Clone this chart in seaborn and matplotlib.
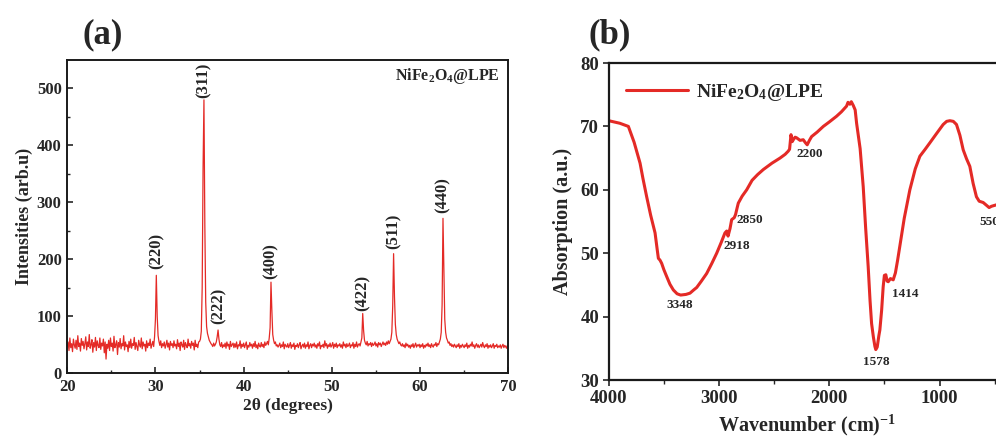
"""XRD pattern (a) and FTIR spectrum (b) of NiFe2O4@LPE."""

import matplotlib

matplotlib.use("Agg")
import matplotlib.pyplot as plt
import numpy as np
import pandas as pd
import seaborn as sns

# --- (a) XRD: intensity read at 0.1 degree steps, one row per degree ---
TWO_THETA_START = 20.0
TWO_THETA_STEP = 0.1
xrd_rows = [
    [48, 55, 40, 62, 45, 52, 38, 60, 50, 44],  # 20
    [58, 42, 66, 47, 53, 39, 61, 49, 56, 43],
    [52, 64, 41, 55, 47, 68, 44, 50, 59, 37],
    [54, 46, 63, 40, 57, 49, 45, 62, 42, 53],
    [48, 60, 36, 55, 25, 51, 44, 58, 40, 62],
    [47, 53, 39, 65, 45, 50, 57, 33, 54, 46],  # 25
    [61, 43, 52, 48, 66, 41, 55, 47, 50, 38],
    [56, 45, 60, 44, 52, 49, 63, 42, 54, 47],
    [40, 58, 50, 46, 62, 43, 55, 48, 51, 39],
    [57, 45, 53, 49, 60, 44, 50, 56, 47, 64],
    [95, 172, 100, 66, 56, 49, 57, 45, 52, 48],  # 30
    [55, 44, 50, 58, 46, 53, 41, 56, 49, 52],
    [45, 57, 48, 51, 43, 59, 47, 53, 40, 55],
    [50, 46, 58, 42, 54, 49, 45, 60, 48, 52],
    [44, 56, 49, 53, 41, 58, 47, 51, 45, 55],
    [56, 60, 74, 150, 360, 480, 260, 125, 82, 70],  # 35
    [64, 58, 55, 52, 50, 47, 53, 48, 51, 55],
    [64, 76, 60, 50, 47, 54, 45, 50, 47, 53],
    [44, 55, 48, 51, 42, 56, 47, 50, 53, 45],
    [52, 46, 55, 43, 50, 48, 57, 44, 51, 47],
    [53, 45, 50, 55, 42, 49, 46, 54, 48, 51],  # 40
    [44, 52, 47, 56, 45, 50, 43, 53, 48, 46],
    [54, 47, 51, 45, 55, 49, 52, 56, 50, 62],
    [80, 160, 110, 68, 58, 52, 55, 48, 50, 46],
    [49, 53, 45, 50, 47, 55, 43, 51, 48, 46],
    [52, 45, 49, 54, 44, 50, 47, 53, 42, 49],  # 45
    [47, 52, 45, 50, 54, 43, 48, 51, 46, 53],
    [44, 50, 47, 55, 43, 49, 52, 45, 51, 48],
    [53, 46, 50, 44, 52, 48, 55, 43, 49, 47],
    [51, 45, 57, 48, 52, 44, 50, 47, 53, 46],
    [49, 54, 44, 51, 47, 53, 45, 50, 48, 52],  # 50
    [46, 50, 44, 55, 48, 51, 45, 52, 47, 49],
    [53, 45, 50, 48, 54, 44, 51, 47, 55, 46],
    [50, 52, 48, 55, 62, 105, 75, 58, 53, 50],
    [56, 48, 52, 50, 54, 47, 53, 49, 51, 55],
    [48, 52, 46, 54, 50, 53, 47, 51, 55, 50],  # 55
    [53, 49, 55, 51, 57, 52, 56, 60, 72, 118],
    [210, 135, 86, 68, 60, 56, 52, 55, 50, 48],
    [52, 47, 50, 45, 53, 48, 51, 46, 49, 44],
    [50, 47, 52, 45, 49, 53, 46, 50, 48, 51],
    [45, 50, 47, 52, 44, 49, 46, 51, 48, 53],  # 60
    [47, 50, 45, 52, 48, 46, 51, 49, 54, 47],
    [52, 50, 55, 60, 72, 120, 272, 180, 95, 72],
    [62, 58, 53, 55, 49, 52, 47, 50, 46, 51],
    [48, 45, 50, 47, 52, 44, 49, 46, 51, 48],
    [45, 50, 47, 53, 44, 49, 46, 51, 48, 55],  # 65
    [47, 50, 44, 49, 52, 46, 50, 45, 48, 51],
    [46, 54, 48, 45, 50, 47, 52, 44, 49, 46],
    [50, 45, 48, 52, 44, 49, 47, 51, 45, 48],
    [46, 50, 44, 48, 51, 45, 49, 47, 44, 49],
    [48],  # 70.0
]

peak_labels = ["(220)", "(311)", "(222)", "(400)", "(422)", "(511)", "(440)"]
peak_two_theta = [30.1, 35.5, 37.2, 43.1, 53.5, 57.0, 62.6]
peak_label_base = [183, 484, 86, 166, 110, 218, 282]

# --- (b) FTIR trace ---
wavenumber = [
    4000, 3900, 3822, 3770, 3716, 3690, 3656, 3620, 3580, 3560, 3550,
    3535, 3520, 3500, 3474, 3445, 3414, 3380, 3348, 3300, 3263, 3230,
    3202, 3160, 3112, 3065, 3021, 2980, 2946, 2930, 2918, 2900, 2885,
    2862, 2850, 2835, 2825, 2790, 2749, 2700, 2650, 2598, 2520, 2447,
    2400, 2372, 2360, 2347, 2336, 2326, 2310, 2296, 2265, 2236, 2215,
    2200, 2180, 2160, 2110, 2054, 2000, 1934, 1890, 1843, 1830, 1813,
    1800, 1782, 1765, 1752, 1720, 1692, 1670, 1647, 1630, 1616, 1600,
    1586, 1578, 1565, 1550, 1541, 1525, 1511, 1500, 1487, 1475, 1465,
    1445, 1420, 1400, 1380, 1360, 1320, 1269, 1220, 1178, 1130, 1088,
    1030, 967, 935, 906, 875, 846, 815, 785, 755, 725, 695, 665, 640,
    604, 570, 550, 529, 490, 450, 400,
]
absorbance = [
    70.9, 70.5, 70.0, 67.5, 64.2, 61.8, 58.9, 56.0, 53.2, 50.5, 49.2,
    48.9, 48.4, 47.4, 46.3, 45.1, 44.2, 43.6, 43.4, 43.5, 43.7, 44.2,
    44.6, 45.6, 46.8, 48.4, 50.0, 51.7, 53.2, 53.5, 52.7, 53.9, 55.3,
    55.6, 56.1, 57.2, 57.9, 59.0, 60.0, 61.5, 62.4, 63.2, 64.2, 65.0,
    65.6, 66.1, 66.4, 68.7, 67.6, 67.9, 68.3, 68.2, 67.8, 67.9, 67.4,
    67.1, 67.8, 68.4, 69.1, 70.0, 70.7, 71.6, 72.3, 73.2, 73.8, 73.5,
    73.9, 73.3, 72.6, 70.5, 66.5, 60.5, 54.0, 47.9, 42.5, 38.9, 36.8,
    35.3, 34.8, 35.2, 37.0, 37.9, 41.0, 44.7, 46.5, 46.6, 45.6, 45.5,
    46.0, 45.8, 46.9, 48.9, 51.1, 55.5, 60.0, 63.3, 65.3, 66.4, 67.4,
    68.8, 70.3, 70.8, 70.9, 70.8, 70.3, 68.6, 66.3, 64.9, 63.7, 61.0,
    58.9, 58.2, 58.0, 57.5, 57.2, 57.4, 57.6, 57.8, 58.0,
]
band_labels = ["3348", "2918", "2850", "2200", "1578", "1414", "550"]
band_label_x = [3360, 2840, 2719, 2175, 1571, 1314, 550]
band_label_y = [41.8, 51.1, 55.2, 65.6, 32.9, 43.5, 55.0]

RED = "#e42a26"
SERIF = "Liberation Serif"


def build_xrd_frame() -> pd.DataFrame:
    intensity = [v for row in xrd_rows for v in row]
    two_theta = np.round(TWO_THETA_START + TWO_THETA_STEP * np.arange(len(intensity)), 1)
    return pd.DataFrame({"two_theta": two_theta, "intensity": intensity})


def style_box(ax: plt.Axes, lw: float = 1.4) -> None:
    for side in ("top", "right", "bottom", "left"):
        ax.spines[side].set_visible(True)
        ax.spines[side].set_linewidth(lw)
        ax.spines[side].set_color("#1a1a1a")


def main() -> None:
    sns.set_theme(style="white")
    plt.rcParams.update(
        {
            "font.family": [SERIF, "DejaVu Serif"],
            "font.weight": "bold",
            "axes.labelweight": "bold",
            "mathtext.fontset": "custom",
            "mathtext.rm": f"{SERIF}:bold",
            "mathtext.bf": f"{SERIF}:bold",
            "mathtext.it": f"{SERIF}:bold:italic",
        }
    )

    fig = plt.figure(figsize=(9.96, 4.41), dpi=100)

    # ---------------- panel (a) ----------------
    ax1 = fig.add_axes([0.0675, 0.1535, 0.4428, 0.7105])
    xrd = build_xrd_frame()
    sns.lineplot(
        data=xrd, x="two_theta", y="intensity", ax=ax1,
        color=RED, lw=0.9, estimator=None,
    )
    ax1.set_xlim(20, 70)
    ax1.set_ylim(0, 550)
    ax1.set_xticks(range(20, 71, 10))
    ax1.set_xticks(range(25, 70, 10), minor=True)
    ax1.set_yticks(range(0, 501, 100))
    ax1.set_yticks(range(50, 550, 100), minor=True)
    ax1.tick_params(axis="both", which="major", direction="in", length=4, width=1.2,
                    labelsize=12, pad=4)
    ax1.tick_params(axis="both", which="minor", direction="in", length=2.5, width=1.0)
    ax1.tick_params(left=True, bottom=True, which="both")
    style_box(ax1)
    ax1.set_xlabel("2θ (degrees)", fontsize=12.5, labelpad=2)
    ax1.set_ylabel("Intensities (arb.u)", fontsize=13, labelpad=3)
    for label, x, y in zip(peak_labels, peak_two_theta, peak_label_base):
        ax1.text(x, y, label, rotation=90, ha="center", va="bottom",
                 fontsize=12, fontweight="bold")
    ax1.text(69.0, 522, r"NiFe$_{2}$O$_{4}$@LPE", ha="right", va="center",
             fontsize=11.5, fontweight="bold")
    fig.text(103 / 996, 1 - 35 / 441, "(a)", ha="center", va="center",
             fontsize=25, fontweight="bold")

    # ---------------- panel (b) ----------------
    ax2 = fig.add_axes([0.6112, 0.1383, 0.3985, 0.7188])
    ftir = pd.DataFrame({"wavenumber": wavenumber, "absorbance": absorbance})
    sns.lineplot(
        data=ftir, x="wavenumber", y="absorbance", ax=ax2,
        color=RED, lw=2.2, estimator=None, label=r"NiFe$_{2}$O$_{4}$@LPE",
    )
    ax2.set_xlim(4000, 400)
    ax2.set_ylim(30, 80)
    ax2.set_xticks([4000, 3000, 2000, 1000])
    ax2.set_xticks([3500, 2500, 1500, 500], minor=True)
    ax2.set_yticks(range(30, 81, 10))
    ax2.tick_params(axis="both", which="major", direction="out", length=4, width=1.2,
                    labelsize=13.5, pad=3)
    ax2.tick_params(axis="x", which="minor", direction="out", length=3, width=1.0)
    ax2.tick_params(left=True, bottom=True, which="both")
    style_box(ax2, lw=1.6)
    ax2.set_xlabel(r"Wavenumber (cm)$^{-1}$", fontsize=14.5, labelpad=4)
    ax2.set_ylabel("Absorption (a.u.)", fontsize=14.5, labelpad=5)
    for label, x, y in zip(band_labels, band_label_x, band_label_y):
        ax2.text(x, y, label, ha="center", va="center", fontsize=9.5, fontweight="bold")
    ax2.legend(loc="upper left", bbox_to_anchor=(0.0, 0.995), frameon=False,
               handlelength=3.2, handletextpad=0.4, fontsize=14)
    fig.text(610 / 996, 1 - 35 / 441, "(b)", ha="center", va="center",
             fontsize=25, fontweight="bold")

    fig.savefig("out.png", dpi=100)
    plt.close(fig)


if __name__ == "__main__":
    main()
